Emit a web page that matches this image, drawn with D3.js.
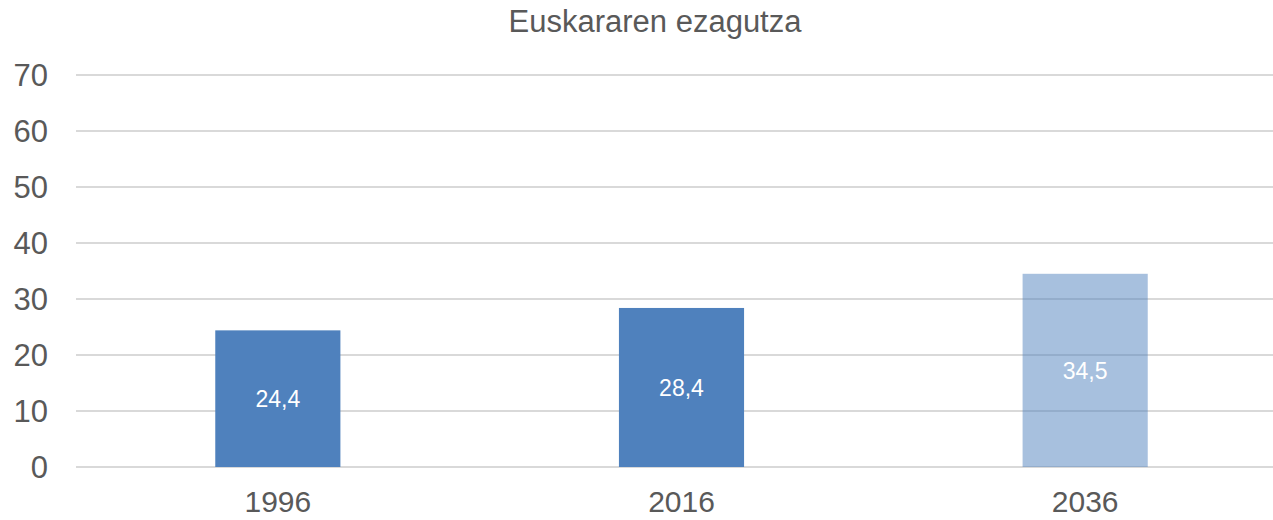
<!DOCTYPE html>
<html>
<head>
<meta charset="utf-8">
<script src="https://cdn.jsdelivr.net/npm/d3@7"></script>
<style>
  body { margin: 0; background: #fff; }
  text { font-family: "Liberation Sans", Arial, sans-serif; }
</style>
</head>
<body>
<svg id="chart"></svg>
<script>
//////////////////////////////////////
// Data

const title = "Euskararen ezagutza";
const years = ["1996", "2016", "2036"];
const values = [24.4, 28.4, 34.5];
const projected = [false, false, true];
const yTicks = [0, 10, 20, 30, 40, 50, 60, 70];

//////////////////////////////////////
// Layout

const width = 1273, height = 520;
const margin = {top: 75, right: -14, bottom: 53, left: 76};
const plotW = width - margin.left - margin.right;
const plotH = height - margin.top - margin.bottom;

const svg = d3.select("#chart").attr("width", width).attr("height", height);

const x = d3.scaleBand().domain(years).range([0, plotW]).paddingInner(0.69).paddingOuter(0.345);
const y = d3.scaleLinear().domain([0, 70]).range([plotH, 0]);

svg.append("text")
  .attr("x", 655).attr("y", 32)
  .attr("text-anchor", "middle")
  .attr("fill", "#595959")
  .style("font-size", "31px")
  .text(title);

const g = svg.append("g").attr("transform", "translate(" + margin.left + "," + margin.top + ")");

// gridlines
g.selectAll(".grid")
  .data(yTicks)
  .enter().append("line")
  .attr("x1", 0).attr("x2", plotW)
  .attr("y1", d => y(d)).attr("y2", d => y(d))
  .attr("stroke", "#d9d9d9")
  .attr("stroke-width", 2);

// y labels
g.selectAll(".ylab")
  .data(yTicks)
  .enter().append("text")
  .attr("x", -28).attr("y", d => y(d))
  .attr("dy", "0.36em")
  .attr("text-anchor", "end")
  .attr("fill", "#595959")
  .style("font-size", "31px")
  .text(d => d);

// bars
g.selectAll(".bar")
  .data(years)
  .enter().append("rect")
  .attr("x", d => x(d))
  .attr("width", x.bandwidth())
  .attr("y", (d, i) => y(values[i]))
  .attr("height", (d, i) => y(0) - y(values[i]))
  .attr("fill", "#4f81bd")
  .attr("fill-opacity", (d, i) => projected[i] ? 0.5 : 1);

// value labels
g.selectAll(".val")
  .data(years)
  .enter().append("text")
  .attr("x", d => x(d) + x.bandwidth() / 2)
  .attr("y", (d, i) => (y(values[i]) + y(0)) / 2)
  .attr("dy", "0.36em")
  .attr("text-anchor", "middle")
  .attr("fill", "#fff")
  .style("font-size", "23px")
  .text((d, i) => String(values[i]).replace(".", ","));

// x labels
g.selectAll(".xlab")
  .data(years)
  .enter().append("text")
  .attr("x", d => x(d) + x.bandwidth() / 2)
  .attr("y", plotH + 45)
  .attr("text-anchor", "middle")
  .attr("fill", "#595959")
  .style("font-size", "30px")
  .text(d => d);
</script>
</body>
</html>
